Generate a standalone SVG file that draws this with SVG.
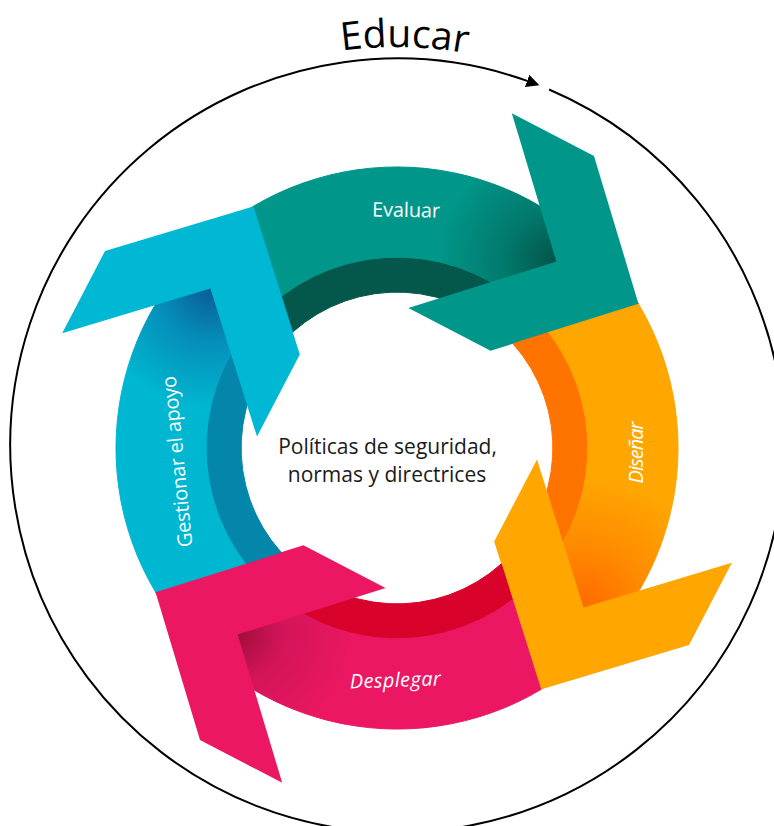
<svg xmlns="http://www.w3.org/2000/svg" width="774" height="826" viewBox="0 0 774 826">
<style>
.lbl{font-family:"Open Sans","Noto Sans","DejaVu Sans",sans-serif;fill:#ffffff;font-size:20px}
.it{font-style:italic}
.ctr{font-family:"Open Sans","Noto Sans","DejaVu Sans",sans-serif;font-size:21px;fill:#1a1a1a;text-anchor:middle}
.title{font-family:"Open Sans","Noto Sans","DejaVu Sans",sans-serif;font-size:39px;fill:#000000}
.ring{fill:none;stroke:#000000;stroke-width:2}
</style>
<defs>
<path id="band" d="M253.2,206.4 A281.5,281.5 0 0 1 638.6,304.2 L547.95,332.74 A190,190 0 0 0 281.74,297.05 Z"/>
<path id="inner" d="M281.74,297.05 A190,190 0 0 1 547.95,332.74 L512.95,343.76 A156,156 0 0 0 292.76,332.05 Z"/>
<polygon id="chev" points="511.8,113.2 594,156 638.6,304.2 490.6,350.8 408.4,308 556.4,261.4"/>
<radialGradient id="shT" gradientUnits="userSpaceOnUse" cx="556" cy="262" r="120">
<stop offset="0" stop-color="#03544a"/><stop offset="0.45" stop-color="#027a6d"/><stop offset="1" stop-color="#00978a"/>
</radialGradient>
<radialGradient id="shO" gradientUnits="userSpaceOnUse" cx="556" cy="262" r="130">
<stop offset="0" stop-color="#ff6a00"/><stop offset="0.5" stop-color="#ff8c00"/><stop offset="1" stop-color="#ffa600"/>
</radialGradient>
<radialGradient id="shP" gradientUnits="userSpaceOnUse" cx="556" cy="262" r="115">
<stop offset="0" stop-color="#a20e3c"/><stop offset="0.4" stop-color="#d4145a"/><stop offset="1" stop-color="#eb1763"/>
</radialGradient>
<radialGradient id="shC" gradientUnits="userSpaceOnUse" cx="556" cy="262" r="120">
<stop offset="0" stop-color="#0b5c98"/><stop offset="0.45" stop-color="#058fba"/><stop offset="1" stop-color="#00b7d1"/>
</radialGradient>
<path id="educarArc" d="M114.6,163.6 A398,398 0 0 1 677.4,163.6"/>
<marker id="ah" markerWidth="14" markerHeight="14" refX="0" refY="7" orient="auto" markerUnits="userSpaceOnUse" viewBox="0 0 14 14">
<path d="M0,0.5 L13,7 L0,13.5 Z" fill="#000000"/>
</marker>
</defs>

<g id="connectors">
<path class="ring" d="M549.1,89.5 A387,387 0 1 1 527.1,80.9" marker-end="url(#ah)"/>
</g>

<g id="educar">
<text class="title"><textPath href="#educarArc" startOffset="321" text-anchor="middle">Educar</textPath></text>
</g>

<g id="evaluar">
<use href="#band" fill="url(#shT)" stroke="url(#shT)" stroke-width="1"/>
<use href="#inner" fill="#04574b" stroke="#04574b" stroke-width="1"/>
<use href="#chev" fill="#00978a"/>
<text class="lbl" text-anchor="middle" textLength="68" transform="translate(406,217) rotate(1)">Evaluar</text>
</g>

<g id="disenar">
<g transform="rotate(90 397 448)">
<use href="#band" fill="url(#shO)" stroke="url(#shO)" stroke-width="1"/>
<use href="#inner" fill="#ff7300" stroke="#ff7300" stroke-width="1"/>
<use href="#chev" fill="#ffa600"/>
</g>
<text class="lbl it" text-anchor="middle" textLength="62" transform="translate(643,452.5) rotate(-90)">Diseñar</text>
</g>

<g id="desplegar">
<g transform="rotate(180 397 448)">
<use href="#band" fill="url(#shP)" stroke="url(#shP)" stroke-width="1"/>
<use href="#inner" fill="#d9022a" stroke="#d9022a" stroke-width="1"/>
<use href="#chev" fill="#eb1763"/>
</g>
<text class="lbl it" text-anchor="middle" textLength="91" transform="translate(395.5,687) rotate(-2)">Desplegar</text>
</g>

<g id="gestionar">
<g transform="rotate(270 397 448)">
<use href="#band" fill="url(#shC)" stroke="url(#shC)" stroke-width="1"/>
<use href="#inner" fill="#0386a9" stroke="#0386a9" stroke-width="1"/>
<use href="#chev" fill="#00b8d3"/>
</g>
<text class="lbl" text-anchor="middle" textLength="172" transform="translate(184,461) rotate(-95.6)">Gestionar el apoyo</text>
</g>

<g id="center">
<text class="ctr" x="387.5" y="454">Políticas de seguridad,</text>
<text class="ctr" x="387" y="482">normas y directrices</text>
</g>
</svg>
